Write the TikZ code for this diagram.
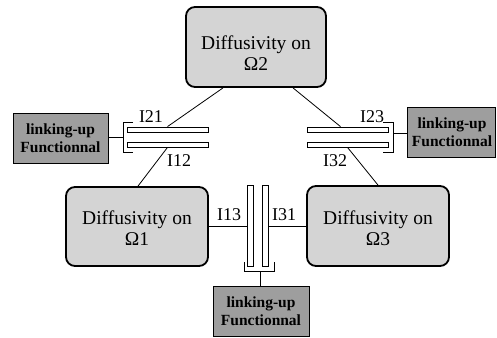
\documentclass[tikz,border=0pt]{standalone}
\usepackage{fontspec}
\setmainfont{Liberation Serif}
\begin{document}
\begin{tikzpicture}[x=1pt,y=-1pt,
 dbox/.style={draw, line width=1.8pt, rounded corners=9pt, fill=black!17, inner sep=0},
 lbox/.style={draw, line width=0.8pt, fill=black!38, inner sep=0},
 maintext/.style={font=\fontsize{19.5}{21}\selectfont, align=center, inner sep=0},
 ltext/.style={font=\fontsize{15.5}{18}\selectfont\bfseries, align=center, inner sep=0},
 lab/.style={font=\fontsize{18}{18}\selectfont, inner sep=0},
 plate/.style={draw, line width=0.8pt, fill=white, inner sep=0},
 conn/.style={line width=0.8pt}]
\useasboundingbox (0,0) rectangle (497,337);
% domain boxes
\node[dbox, minimum width=140pt, minimum height=80pt] (o2) at (256,47) {};
\node[maintext] (o2t) at (256,53) {Diffusivity on\\Ω2};
\node[dbox, minimum width=142pt, minimum height=79pt] (o1) at (137,226.5) {};
\node[maintext] (o1t) at (137,228) {Diffusivity on\\Ω1};
\node[dbox, minimum width=142pt, minimum height=80pt] (o3) at (378,226) {};
\node[maintext] (o3t) at (378,228) {Diffusivity on\\Ω3};
% linking boxes
\node[lbox, minimum width=95pt, minimum height=50pt] (ll) at (60.5,138) {};
\node[ltext] (llt) at (60.5,138) {linking-up\\Functionnal};
\node[lbox, minimum width=88pt, minimum height=50pt] (rl) at (451,132) {};
\node[ltext] (rlt) at (452,132) {linking-up\\Functionnal};
\node[lbox, minimum width=96pt, minimum height=50pt] (bl) at (261,311) {};
\node[ltext] (blt) at (261,311) {linking-up\\Functionnal};
% plates
\node[plate, minimum width=81pt, minimum height=5pt] (p21) at (167.5,129.5) {};
\node[plate, minimum width=81pt, minimum height=5pt] (p12) at (167.5,144.5) {};
\node[plate, minimum width=81pt, minimum height=5pt] (p23) at (347.5,129.5) {};
\node[plate, minimum width=81pt, minimum height=5pt] (p32) at (347.5,144.5) {};
\node[plate, minimum width=6pt, minimum height=81pt] (p13) at (250,225.5) {};
\node[plate, minimum width=6pt, minimum height=81pt] (p31) at (265,225.5) {};
% brackets
\draw[conn] (133,122) -- (123,122) -- (123,152) -- (133,152);
\coordinate (bkl) at (123,137);
\draw[conn] (383,122) -- (393,122) -- (393,152) -- (383,152);
\coordinate (bkr) at (393,133);
\draw[conn] (244,262) -- (244,271) -- (274,271) -- (274,262);
\coordinate (bkb) at (260,271);
\draw[conn] (ll.east |- bkl) -- (bkl);
\draw[conn] (bkr) -- (bkr -| rl.west);
\draw[conn] (bkb) -- (bkb |- bl.north);
% connectors
\draw[conn] ([xshift=-33pt]o2.south) -- (p21.north);
\draw[conn] ([xshift=37pt]o2.south) -- ([xshift=-7pt]p23.north);
\draw[conn] (p12.south) -- ([xshift=1pt]o1.north);
\draw[conn] (p32.south) -- (o3.north);
\draw[conn] (o1.east) -- (o1.east -| p13.west);
\draw[conn] (o3.west -| p31.east) -- (o3.west);
% labels
\node[lab] (l21) at (151,117) {I21};
\node[lab] (l12) at (179,161) {I12};
\node[lab] (l23) at (372,117) {I23};
\node[lab] (l32) at (335,161) {I32};
\node[lab] (l13) at (229,215) {I13};
\node[lab] (l31) at (284,215) {I31};
\end{tikzpicture}
\end{document}
